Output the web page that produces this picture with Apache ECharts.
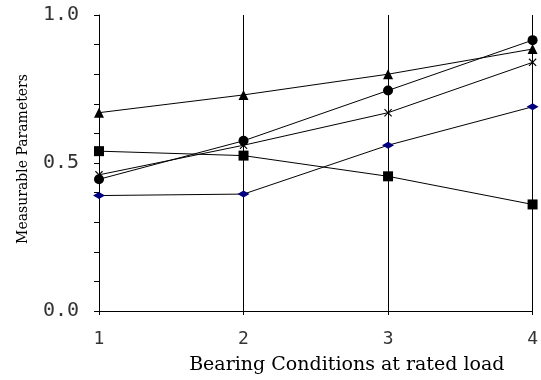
<!DOCTYPE html>
<html><head><meta charset="utf-8">
<script src="https://cdn.jsdelivr.net/npm/echarts@6/dist/echarts.min.js"></script>
<style>html,body{margin:0;padding:0;background:#fff}#c{width:541px;height:380px}</style>
</head><body><div id="c"></div>
<script>
const conditions = [1, 2, 3, 4];
const triangleSeries = [0.67, 0.73, 0.80, 0.885];
const squareSeries = [0.54, 0.525, 0.455, 0.36];
const circleSeries = [0.445, 0.575, 0.745, 0.915];
const crossSeries = [0.46, 0.56, 0.67, 0.84];
const diamondSeries = [0.39, 0.395, 0.56, 0.69];
const yTicks = [0, 0.5, 1.0];

const crossPath = 'path://M0,1 L1,0 L5,4 L9,0 L10,1 L6,5 L10,9 L9,10 L5,6 L1,10 L0,9 L4,5 Z';
function pairs(vals){ return conditions.map((c,i)=>[c, vals[i]]); }
function mk(vals, symbol, size, color){
  return {type:'line', data: pairs(vals), symbol: symbol, symbolSize: size,
    lineStyle:{color:'#000', width:1}, itemStyle:{color: color, borderWidth:0},
    emphasis:{disabled:true}, animation:false};
}
const chart = echarts.init(document.getElementById('c'), null, {renderer:'canvas'});
chart.setOption({
  animation:false,
  grid:{left:99, right:4, top:15, bottom:67, containLabel:false},
  xAxis:{type:'value', min:1, max:4, interval:1,
    name:'Bearing Conditions at rated load', nameLocation:'middle', nameGap:45,
    nameTextStyle:{fontFamily:'DejaVu Serif', fontSize:19, color:'#000', padding:[0,0,0,62]},
    axisLine:{show:true, lineStyle:{color:'#000', width:1}},
    axisTick:{show:true, length:4, lineStyle:{color:'#000'}},
    axisLabel:{fontFamily:'DejaVu Sans Mono', fontSize:18, color:'#333', margin:19},
    splitLine:{show:true, lineStyle:{color:'#000', width:1}}},
  yAxis:{type:'value', min:0, max:1, interval:0.5,
    name:'Measurable Parameters', nameLocation:'middle', nameGap:69, nameRotate:90,
    nameTextStyle:{fontFamily:'DejaVu Serif', fontSize:14, color:'#000', padding:[0,0,0,8]},
    axisLine:{show:true, lineStyle:{color:'#000', width:1}},
    axisTick:{show:true, length:5, lineStyle:{color:'#000'}},
    minorTick:{show:true, splitNumber:5, length:5, lineStyle:{color:'#000'}},
    axisLabel:{fontFamily:'DejaVu Sans Mono', fontSize:20, color:'#333', margin:20,
      formatter: v => yTicks.includes(v) ? v.toFixed(1) : ''},
    splitLine:{show:false}},
  series:[
    mk(triangleSeries, 'triangle', 10, '#000'),
    mk(squareSeries, 'rect', 10, '#000'),
    mk(crossSeries, crossPath, 8, '#000'),
    mk(circleSeries, 'circle', 10, '#000'),
    mk(diamondSeries, 'diamond', [12, 7], '#000080')
  ]
});
</script></body></html>
